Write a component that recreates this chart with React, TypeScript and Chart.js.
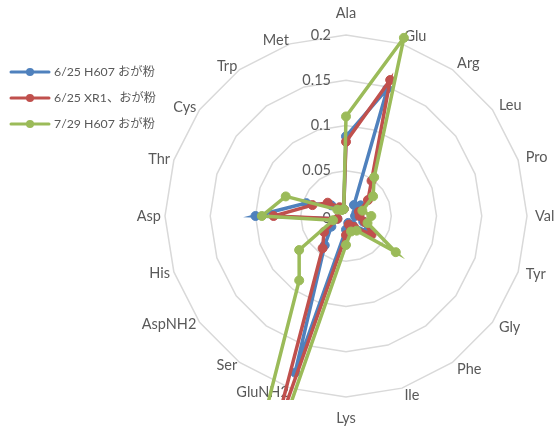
import React, { useEffect, useRef } from "react";
import { Chart, registerables } from "chart.js";

Chart.register(...registerables);

const categories = ["Ala", "Glu", "Arg", "Leu", "Pro", "Val", "Tyr", "Gly", "Phe", "Ile", "Lys", "GluNH2", "Ser", "AspNH2", "His", "Asp", "Thr", "Cys", "Trp", "Met"];
const seriesNames = ["6/25 H607 おが粉", "6/25 XR1、おが粉", "7/29 H607 おが粉"];
const seriesColors = ["#4F81BD", "#C0504D", "#9BBB59"];
const h607June = [0.088, 0.148, 0.015, 0.02, 0.012, 0.01, 0.02, 0.03, 0.012, 0.008, 0.015, 0.182, 0.04, 0.02, 0.01, 0.1, 0.046, 0.02, 0.01, 0.008];
const xr1June = [0.082, 0.158, 0.048, 0.03, 0.015, 0.015, 0.022, 0.035, 0.015, 0.01, 0.021, 0.27, 0.044, 0.03, 0.01, 0.08, 0.039, 0.025, 0.012, 0.008];
const h607July = [0.11, 0.207, 0.053, 0.037, 0.019, 0.028, 0.025, 0.068, 0.02, 0.018, 0.032, 0.5, 0.088, 0.064, 0.015, 0.093, 0.07, 0.012, 0.008, 0.008];
const tickValues = [0, 0.05, 0.1, 0.15, 0.2];
const tickLabels = ["0", "0.05", "0.1", "0.15", "0.2"];

const LABEL_FONT = "14.5px Lato, 'Noto Sans CJK JP', sans-serif";
const LEGEND_FONT = "12.3px Lato, 'Noto Sans CJK JP', sans-serif";
const TEXT_COLOR = "#595959";

const overlayPlugin = {
  id: "overlay",
  beforeDatasetsDraw(chart: any) {
    const ctx = chart.ctx;
    const scale = chart.scales.r;
    ctx.save();
    ctx.font = LABEL_FONT;
    ctx.fillStyle = TEXT_COLOR;
    // point labels
    categories.forEach((cat, i) => {
      const a = scale.getIndexAngle(i);
      const s = Math.sin(a);
      const c = Math.cos(a);
      const pad = s < -0.05 ? 4 : 8;
      const p = scale.getPointPosition(i, scale.drawingArea + pad);
      let x = p.x;
      let y = p.y;
      ctx.textBaseline = "middle";
      if (s > 0.05) ctx.textAlign = "left";
      else if (s < -0.05) ctx.textAlign = "right";
      else {
        ctx.textAlign = "center";
        y += c > 0 ? -14 : 13;
      }
      ctx.fillText(cat, x, y);
    });
    // tick labels
    ctx.textAlign = "right";
    ctx.textBaseline = "middle";
    tickValues.forEach((v, i) => {
      const d = scale.getDistanceFromCenterForValue(v);
      ctx.fillText(tickLabels[i], scale.xCenter - 15, scale.yCenter - d + (i === 0 ? 2 : 0));
    });
    ctx.restore();
  },
  afterDraw(chart: any) {
    const ctx = chart.ctx;
    ctx.save();
    ctx.font = LEGEND_FONT;
    ctx.textAlign = "left";
    ctx.textBaseline = "middle";
    seriesNames.forEach((name, i) => {
      const y = 72 + i * 26;
      ctx.strokeStyle = seriesColors[i];
      ctx.lineWidth = 3;
      ctx.lineCap = "round";
      ctx.beginPath();
      ctx.moveTo(11, y);
      ctx.lineTo(49, y);
      ctx.stroke();
      ctx.fillStyle = seriesColors[i];
      ctx.beginPath();
      ctx.arc(30, y, 4, 0, Math.PI * 2);
      ctx.fill();
      ctx.fillStyle = TEXT_COLOR;
      ctx.fillText(name, 54, y);
    });
    ctx.restore();
  },
};

export default function App() {
  const ref = useRef<HTMLCanvasElement | null>(null);
  useEffect(() => {
    if (!ref.current) return;
    const series = [h607June, xr1June, h607July];
    const chart = new Chart(ref.current, {
      type: "radar",
      data: {
        labels: categories,
        datasets: series.map((d, i) => ({
          label: seriesNames[i],
          data: d,
          borderColor: seriesColors[i],
          backgroundColor: seriesColors[i],
          pointBackgroundColor: seriesColors[i],
          pointBorderColor: seriesColors[i],
          pointRadius: 4.5,
          pointBorderWidth: 1,
          borderWidth: 3.5,
          fill: false,
          tension: 0,
          order: 3 - i,
          clip: { left: false, right: false, top: false, bottom: 3 },
        })) as any,
      },
      options: {
        animation: false,
        responsive: false,
        layout: { padding: { left: 165, right: 30, top: 35, bottom: 35 } },
        plugins: { legend: { display: false }, tooltip: { enabled: false } },
        scales: {
          r: {
            min: 0,
            max: 0.2,
            ticks: { display: false, stepSize: 0.05 },
            angleLines: { display: false },
            grid: { color: "#d9d9d9", lineWidth: 1.5 },
            pointLabels: { display: false },
          },
        },
      } as any,
      plugins: [overlayPlugin],
    });
    return () => chart.destroy();
  }, []);
  return (
    <div style={{ position: "absolute", left: 0, top: 0, width: 557, height: 432, background: "#fff" }}>
      <canvas ref={ref} width={557} height={432} style={{ width: 557, height: 432 }} />
    </div>
  );
}
